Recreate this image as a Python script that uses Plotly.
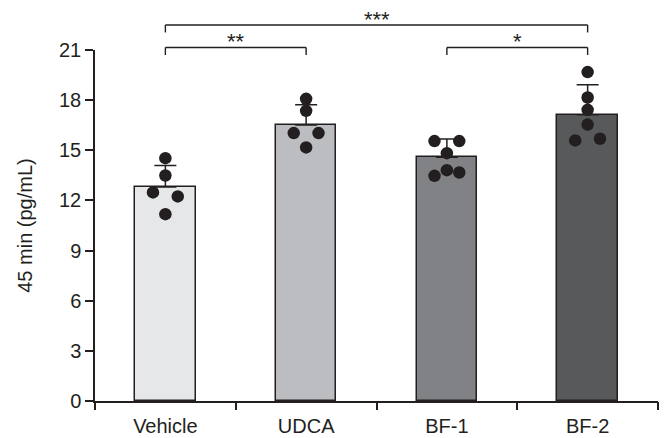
import plotly.graph_objects as go

# ---- data ----
categories = ["Vehicle", "UDCA", "BF-1", "BF-2"]
means = [12.8, 16.52, 14.59, 17.12]
sd_upper = [1.29, 1.20, 1.08, 1.80]
points = [
    [14.53, 13.49, 12.48, 12.24, 11.18],
    [18.08, 17.36, 16.03, 16.03, 15.17],
    [15.55, 15.55, 14.83, 13.47, 13.81, 13.67],
    [19.68, 18.16, 17.42, 16.54, 15.59, 15.69],
]
comparisons = [("Vehicle", "UDCA", "**"), ("BF-1", "BF-2", "*"), ("Vehicle", "BF-2", "***")]
y_ticks = [0, 3, 6, 9, 12, 15, 18, 21]
y_title = "45 min (pg/mL)"

# ---- styling / layout ----
bar_colors = ["#e6e7e9", "#bcbdc0", "#808285", "#58595b"]
dark = "#231f20"
dot_dx = [
    [0, 0, -0.088, 0.088, 0],
    [0, 0, -0.088, 0.088, 0],
    [-0.088, 0.088, 0, -0.088, 0, 0.088],
    [0, 0, 0, 0, -0.088, 0.088],
]
bracket_levels = [21.15, 21.15, 22.5]
bracket_drop = 0.45
Y_MAX = 21
font = dict(family="Liberation Sans, Arial, sans-serif", size=20, color=dark)

fig = go.Figure()
fig.add_trace(go.Bar(
    x=list(range(len(categories))), y=means, width=0.43,
    marker=dict(color=bar_colors, line=dict(color=dark, width=1.5)),
    error_y=dict(type="data", symmetric=False, array=sd_upper,
                 arrayminus=[0] * len(means), color=dark, thickness=1.5, width=11),
    showlegend=False,
))

xs, ys = [], []
for i, grp in enumerate(points):
    for v, dx in zip(grp, dot_dx[i]):
        xs.append(i + dx)
        ys.append(v)
fig.add_trace(go.Scatter(
    x=xs, y=ys, mode="markers",
    marker=dict(size=12.5, color=dark), showlegend=False, cliponaxis=False,
))

# invisible trace so the boundary-tick axis is drawn
fig.add_trace(go.Scatter(x=[0], y=[0], xaxis="x2", mode="markers",
                         marker=dict(opacity=0), showlegend=False, hoverinfo="skip"))

for (a, b, label), lvl in zip(comparisons, bracket_levels):
    xa, xb = categories.index(a), categories.index(b)
    top = lvl / Y_MAX
    bot = (lvl - bracket_drop) / Y_MAX
    fig.add_shape(type="line", xref="x", yref="paper",
                  x0=xa, x1=xb, y0=top, y1=top,
                  line=dict(color=dark, width=1.4))
    for xx in (xa, xb):
        fig.add_shape(type="line", xref="x", yref="paper",
                      x0=xx, x1=xx, y0=bot, y1=top,
                      line=dict(color=dark, width=1.4))
    fig.add_annotation(x=(xa + xb) / 2, y=top, xref="x", yref="paper",
                       text=label, showarrow=False, yanchor="bottom",
                       font=dict(family=font["family"], size=22, color=dark), yshift=-9)

# the page body adds an 8px offset, so the figure is sized to fit the window
fig.update_layout(
    width=659, height=430,
    margin=dict(l=87, r=9, t=42, b=37, autoexpand=False),
    plot_bgcolor="white", paper_bgcolor="white",
    font=font,
    bargap=0,
    xaxis=dict(
        range=[-0.5, 3.5], tickmode="array", automargin=False,
        tickvals=list(range(len(categories))), ticktext=categories,
        ticks="outside", ticklen=6, tickcolor="rgba(0,0,0,0)",
        showline=True, linecolor=dark, linewidth=1.5, showgrid=False,
        zeroline=False, tickfont=font,
    ),
    xaxis2=dict(
        range=[-0.5, 3.5], overlaying="x", anchor="y", side="bottom", automargin=False,
        tickmode="array", tickvals=[-0.5, 0.5, 1.5, 2.5, 3.5],
        ticks="outside", ticklen=8, tickwidth=1.5, tickcolor=dark,
        showticklabels=False, showline=False, showgrid=False, zeroline=False,
    ),
    yaxis=dict(
        range=[0, Y_MAX], tickvals=y_ticks, ticks="outside", ticklen=8, tickwidth=1.5,
        automargin=False,
        tickcolor=dark, showline=True, linecolor=dark, linewidth=1.5, showgrid=False,
        zeroline=False, title=dict(text=y_title, standoff=21, font=font), tickfont=font,
    ),
)

fig.write_html("out.html")
